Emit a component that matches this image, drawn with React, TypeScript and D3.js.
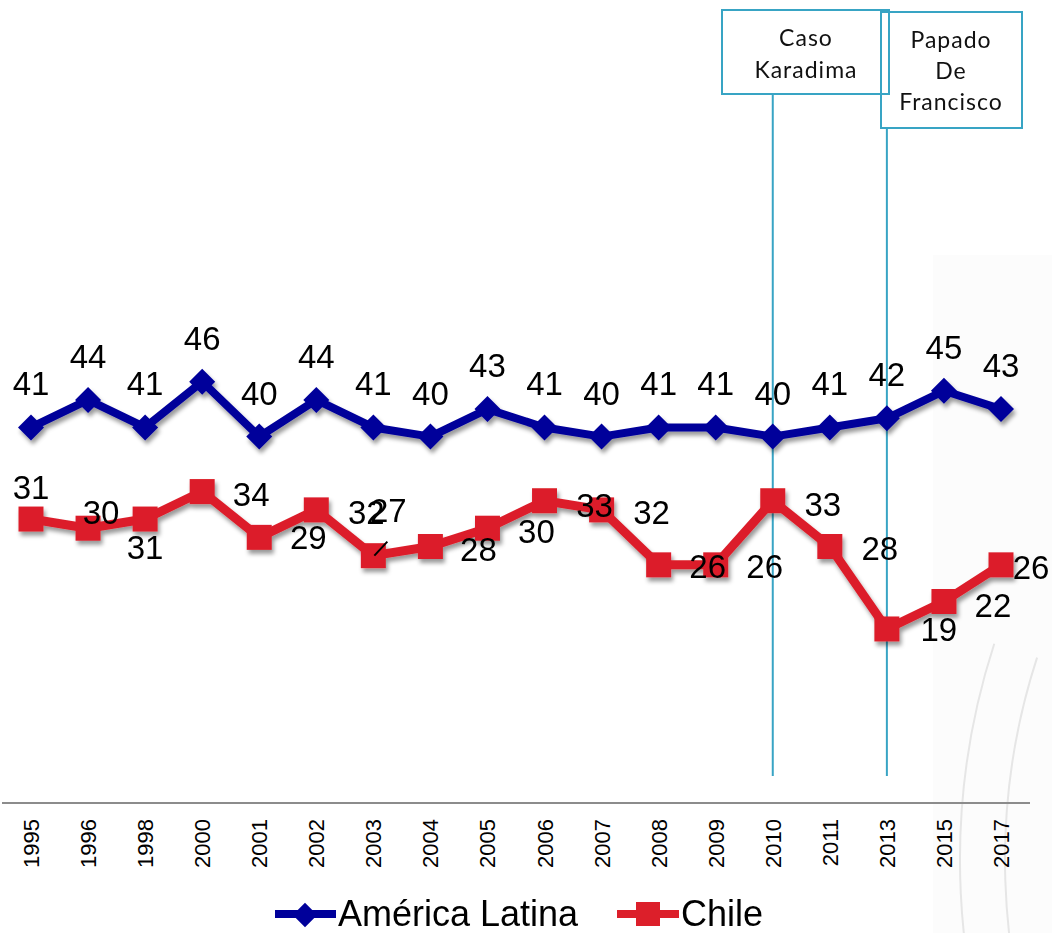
import React from "react";
import * as d3 from "d3";

const years = ["1995","1996","1998","2000","2001","2002","2003","2004","2005","2006","2007","2008","2009","2010","2011","2013","2015","2017"];
const americaLatina = [41,44,41,46,40,44,41,40,43,41,40,41,41,40,41,42,45,43];
const chile = [31,30,31,34,29,32,27,28,30,33,32,26,26,33,28,19,22,26];
const seriesNames = ["América Latina", "Chile"];
const eventYears = ["2010", "2013"];
const eventLabels = [["Caso", "Karadima"], ["Papado", "De", "Francisco"]];

// label layout (offsets of the Chile value labels from their point, as in the source chart)
const chileLabelDx = [0, 13, 0, 49, 49, 50, 15, 48, 49, 50, 50, 49, 49, 50, 50, 52, 49, 30];
const chileLabelDy = [-32, -16, 28, 2, 0, 2, -46, 2, 3, 4, 2, 1, 1, 3, 1, 0, 4, 2];
// annotation boxes layout
const boxes = [
  { x: 722, y: 10, w: 167, h: 84, cx: 806, base: 46, lh: 32 },
  { x: 881, y: 12, w: 141, h: 116, cx: 951, base: 48, lh: 31 },
];

const W = 1052, H = 933;
const BLUE = "#00009a";
const RED = "#dc1f2a";
const TEAL = "#38a4c4";

export default function App() {
  const x = d3.scalePoint<string>().domain(years).range([31, 1001]);
  const y = d3.scaleLinear().domain([0, 50]).range([803, 345]);
  const line = d3.line<number>().x((_, i) => x(years[i])!).y((d) => y(d));
  const square = d3.symbol(d3.symbolSquare, 625)()!;
  const diamond = d3.symbol(d3.symbolSquare, 338)()!;
  const legSquare = d3.symbol(d3.symbolSquare, 576)()!;
  const legDiamond = d3.symbol(d3.symbolSquare, 300)()!;

  // watermark arcs
  const arcOuter = d3.arc()({ innerRadius: 700, outerRadius: 700, startAngle: -Math.PI * 0.63, endAngle: -Math.PI * 0.4 } as any)!;
  const arcInner = d3.arc()({ innerRadius: 655, outerRadius: 655, startAngle: -Math.PI * 0.62, endAngle: -Math.PI * 0.4 } as any)!;

  return (
    <svg width={W} height={H} style={{ position: "absolute", left: 0, top: 0, background: "#fff" }}
      fontFamily="'Liberation Sans', Arial, sans-serif">
      <defs>
        <filter id="sh" x="-10%" y="-30%" width="120%" height="170%">
          <feDropShadow dx="2" dy="4" stdDeviation="2" floodColor="#000" floodOpacity="0.4" />
        </filter>
      </defs>
      {/* faint watermark */}
      <rect x={933} y={255} width={W - 933} height={H - 255} fill="#fcfcfc" />
      <g transform="translate(1660,860)" fill="none" stroke="#e6e6e6" strokeWidth={2}>
        <path d={arcOuter} />
        <path d={arcInner} />
      </g>

      {/* axis line */}
      <line x1={2} x2={1030} y1={y(0)} y2={y(0)} stroke="#8c8c8c" strokeWidth={2} />
      {years.map((yr) => (
        <text key={yr} transform={`translate(${x(yr)! + 8},819) rotate(-90)`} textAnchor="end" fontSize={22} fill="#000">
          {yr}
        </text>
      ))}

      {/* event lines */}
      {eventYears.map((ey, i) => (
        <line key={ey} x1={x(ey)} x2={x(ey)} y1={boxes[i].y + boxes[i].h} y2={776} stroke={TEAL} strokeWidth={2} />
      ))}

      {/* series */}
      <g filter="url(#sh)">
        <path d={line(americaLatina)!} fill="none" stroke={BLUE} strokeWidth={8} strokeLinejoin="round" />
        {americaLatina.map((v, i) => (
          <path key={i} d={diamond} transform={`translate(${x(years[i])},${y(v)}) rotate(45)`} fill={BLUE} />
        ))}
        <path d={line(chile)!} fill="none" stroke={RED} strokeWidth={9} strokeLinejoin="round" />
        {chile.map((v, i) => (
          <path key={i} d={square} transform={`translate(${x(years[i])},${y(v)})`} fill={RED} />
        ))}
      </g>

      {/* value labels */}
      {americaLatina.map((v, i) => (
        <text key={i} x={x(years[i])} y={y(v) - 32} textAnchor="middle" fontSize={33} fill="#000">{v}</text>
      ))}
      {chile.map((v, i) => (
        <text key={i} x={x(years[i])! + chileLabelDx[i]} y={y(v) + chileLabelDy[i] + 12} textAnchor="middle" fontSize={33} fill="#000">{v}</text>
      ))}
      <line x1={x("2003")! + 1} y1={y(chile[6])} x2={x("2003")! + 14} y2={y(chile[6]) - 14} stroke="#000" strokeWidth={2} />

      {/* event boxes */}
      {boxes.map((b, i) => (
        <g key={i}>
          <rect x={b.x} y={b.y} width={b.w} height={b.h} fill="none" stroke={TEAL} strokeWidth={2} />
          {eventLabels[i].map((t, j) => (
            <text key={j} x={b.cx} y={b.base + j * b.lh} textAnchor="middle" fontSize={23} fontFamily="Lato, 'Open Sans', sans-serif" letterSpacing={1} fill="#111">{t}</text>
          ))}
        </g>
      ))}

      {/* legend */}
      <g>
        <line x1={275} x2={336} y1={914} y2={914} stroke={BLUE} strokeWidth={8} />
        <path d={legDiamond} transform="translate(305,915) rotate(45)" fill={BLUE} />
        <text x={338} y={926} fontSize={36} fill="#000">{seriesNames[0]}</text>
        <line x1={617} x2={679} y1={914} y2={914} stroke={RED} strokeWidth={8} />
        <path d={legSquare} transform="translate(648,914)" fill={RED} />
        <text x={681} y={926} fontSize={36} fill="#000">{seriesNames[1]}</text>
      </g>
    </svg>
  );
}
